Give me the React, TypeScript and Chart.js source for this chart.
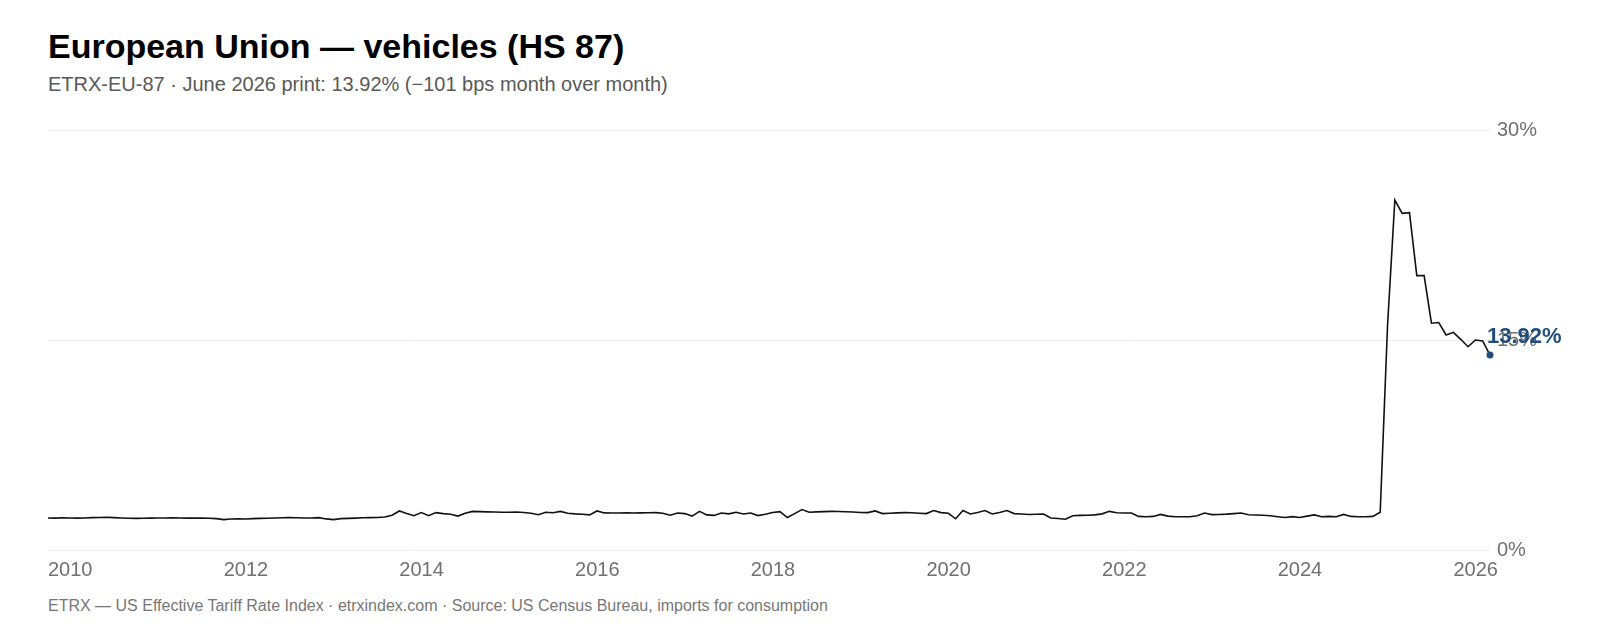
import { useEffect, useRef } from "react"
import { Chart, registerables } from "chart.js"

Chart.register(...registerables)

// monthly series starts January 2010, last print June 2026
const startYear = 2010
const xTickYears = [2010, 2012, 2014, 2016, 2018, 2020, 2022, 2024, 2026]
const yTicks = [0, 15, 30]

// effective tariff rate, percent, one value per month
const rate2010to2013 = [
  2.29, 2.28, 2.3, 2.29, 2.28, 2.29, 2.31, 2.32, 2.34, 2.31, 2.29, 2.27,
  2.26, 2.27, 2.28, 2.29, 2.29, 2.3, 2.29, 2.28, 2.29, 2.28, 2.27, 2.24,
  2.17, 2.21, 2.22, 2.21, 2.24, 2.26, 2.27, 2.29, 2.3, 2.31, 2.3, 2.29,
  2.29, 2.31, 2.22, 2.17, 2.24, 2.26, 2.28, 2.3, 2.31, 2.32, 2.36, 2.48,
]
const rate2014to2017 = [
  2.79, 2.6, 2.45, 2.67, 2.45, 2.67, 2.6, 2.55, 2.42, 2.62, 2.76, 2.74,
  2.72, 2.71, 2.7, 2.7, 2.71, 2.68, 2.62, 2.52, 2.7, 2.66, 2.76, 2.63,
  2.58, 2.55, 2.51, 2.79, 2.65, 2.64, 2.64, 2.65, 2.64, 2.65, 2.66, 2.67,
  2.62, 2.48, 2.64, 2.6, 2.42, 2.76, 2.51, 2.47, 2.64, 2.58, 2.7, 2.57,
]
const rate2018to2021 = [
  2.64, 2.46, 2.55, 2.68, 2.74, 2.32, 2.6, 2.89, 2.7, 2.72, 2.74, 2.76,
  2.75, 2.73, 2.71, 2.68, 2.67, 2.79, 2.6, 2.62, 2.65, 2.67, 2.66, 2.63,
  2.6, 2.82, 2.67, 2.62, 2.23, 2.82, 2.57, 2.68, 2.82, 2.57, 2.68, 2.82,
  2.6, 2.57, 2.54, 2.55, 2.57, 2.29, 2.25, 2.2, 2.45, 2.47, 2.48, 2.51,
]
const rate2022to2024 = [
  2.58, 2.76, 2.66, 2.64, 2.64, 2.4, 2.38, 2.4, 2.54, 2.42, 2.38, 2.38,
  2.38, 2.45, 2.64, 2.53, 2.54, 2.56, 2.6, 2.64, 2.52, 2.5, 2.48, 2.45,
  2.38, 2.32, 2.38, 2.32, 2.42, 2.51, 2.38, 2.4, 2.38, 2.54, 2.4, 2.38,
]
const rate2025to2026 = [
  2.38, 2.4, 2.7, 16.0, 25.0, 24.05, 24.1, 19.6, 19.6, 16.2, 16.25, 15.36,
  15.55, 15.05, 14.52, 15.0, 14.93, 13.92,
]

const rateValues = [
  ...rate2010to2013,
  ...rate2014to2017,
  ...rate2018to2021,
  ...rate2022to2024,
  ...rate2025to2026,
]

const fontFamily = "'Liberation Sans', Arial, Helvetica, sans-serif"
const accent = "#1f4e7c"
const tickColor = "#707070"

export default function App() {
  const canvasRef = useRef<HTMLCanvasElement>(null)
  const chartRef = useRef<Chart | null>(null)

  useEffect(() => {
    if (!canvasRef.current) return

    if (chartRef.current) {
      chartRef.current.destroy()
    }

    const ctx = canvasRef.current.getContext("2d")
    if (!ctx) return

    const last = rateValues.length - 1
    const points = rateValues.map((y, i) => ({ x: startYear + i / 12, y }))

    // value label next to the latest print
    const lastLabel = {
      id: "lastLabel",
      afterDatasetsDraw(chart: Chart) {
        const pt = chart.getDatasetMeta(0).data[last]
        if (!pt) return
        const c = chart.ctx
        c.save()
        c.font = `bold 22px ${fontFamily}`
        c.fillStyle = accent
        c.textAlign = "left"
        c.textBaseline = "alphabetic"
        c.fillText(`${rateValues[last].toFixed(2)}%`, pt.x - 3, pt.y - 12)
        c.restore()
      },
    }

    Chart.defaults.font.family = fontFamily

    chartRef.current = new Chart(ctx, {
      type: "line",
      data: {
        datasets: [
          {
            data: points,
            borderColor: "#111111",
            borderWidth: 1.6,
            tension: 0,
            clip: false,
            pointRadius: (c: any) => (c.dataIndex === last ? 3.5 : 0),
            pointHoverRadius: 0,
            pointBackgroundColor: accent,
            pointBorderColor: accent,
            pointBorderWidth: 0,
          },
        ],
      },
      options: {
        responsive: true,
        maintainAspectRatio: false,
        animation: false,
        layout: { padding: { right: 40 } },
        plugins: {
          legend: { display: false },
          tooltip: { enabled: false },
        },
        scales: {
          x: {
            type: "linear",
            min: startYear,
            max: startYear + last / 12,
            afterBuildTicks: (scale: any) => {
              scale.ticks = xTickYears.map((value) => ({ value }))
            },
            afterFit: (scale: any) => {
              scale.height = 38
            },
            grid: { display: false, drawTicks: false },
            border: { display: false },
            ticks: {
              align: "start",
              padding: 8,
              maxRotation: 0,
              autoSkip: false,
              color: tickColor,
              font: { size: 20 },
              callback: (v: any) => String(v),
            },
          },
          y: {
            position: "right",
            min: 0,
            max: 30,
            afterBuildTicks: (scale: any) => {
              scale.ticks = yTicks.map((value) => ({ value }))
            },
            afterFit: (scale: any) => {
              scale.width = 62
            },
            grid: { color: "#ececec", lineWidth: 1, drawTicks: false },
            border: { display: false },
            ticks: {
              padding: 7,
              color: tickColor,
              font: { size: 20 },
              callback: (v: any) => `${v}%`,
            },
          },
        },
      },
      plugins: [lastLabel],
    })

    return () => {
      if (chartRef.current) {
        chartRef.current.destroy()
        chartRef.current = null
      }
    }
  }, [])

  return (
    <div style={{ position: "relative", height: 624, fontFamily }}>
      <div
        style={{
          position: "absolute",
          left: 40,
          top: 21,
          fontSize: 34,
          lineHeight: "34px",
          fontWeight: 700,
          color: "#000",
          whiteSpace: "nowrap",
        }}
      >
        European Union — vehicles (HS 87)
      </div>
      <div
        style={{
          position: "absolute",
          left: 40,
          top: 66,
          fontSize: 20,
          lineHeight: "20px",
          color: "#595959",
          whiteSpace: "nowrap",
        }}
      >
        ETRX-EU-87 · June 2026 print: 13.92% (−101 bps month over month)
      </div>
      <div style={{ position: "absolute", left: 32, top: 103, width: 1552, height: 477 }}>
        <canvas ref={canvasRef}></canvas>
      </div>
      <div
        style={{
          position: "absolute",
          left: 40,
          top: 590,
          fontSize: 16,
          lineHeight: "16px",
          color: "#777",
          whiteSpace: "nowrap",
        }}
      >
        ETRX — US Effective Tariff Rate Index · etrxindex.com · Source: US Census Bureau, imports for consumption
      </div>
    </div>
  )
}
